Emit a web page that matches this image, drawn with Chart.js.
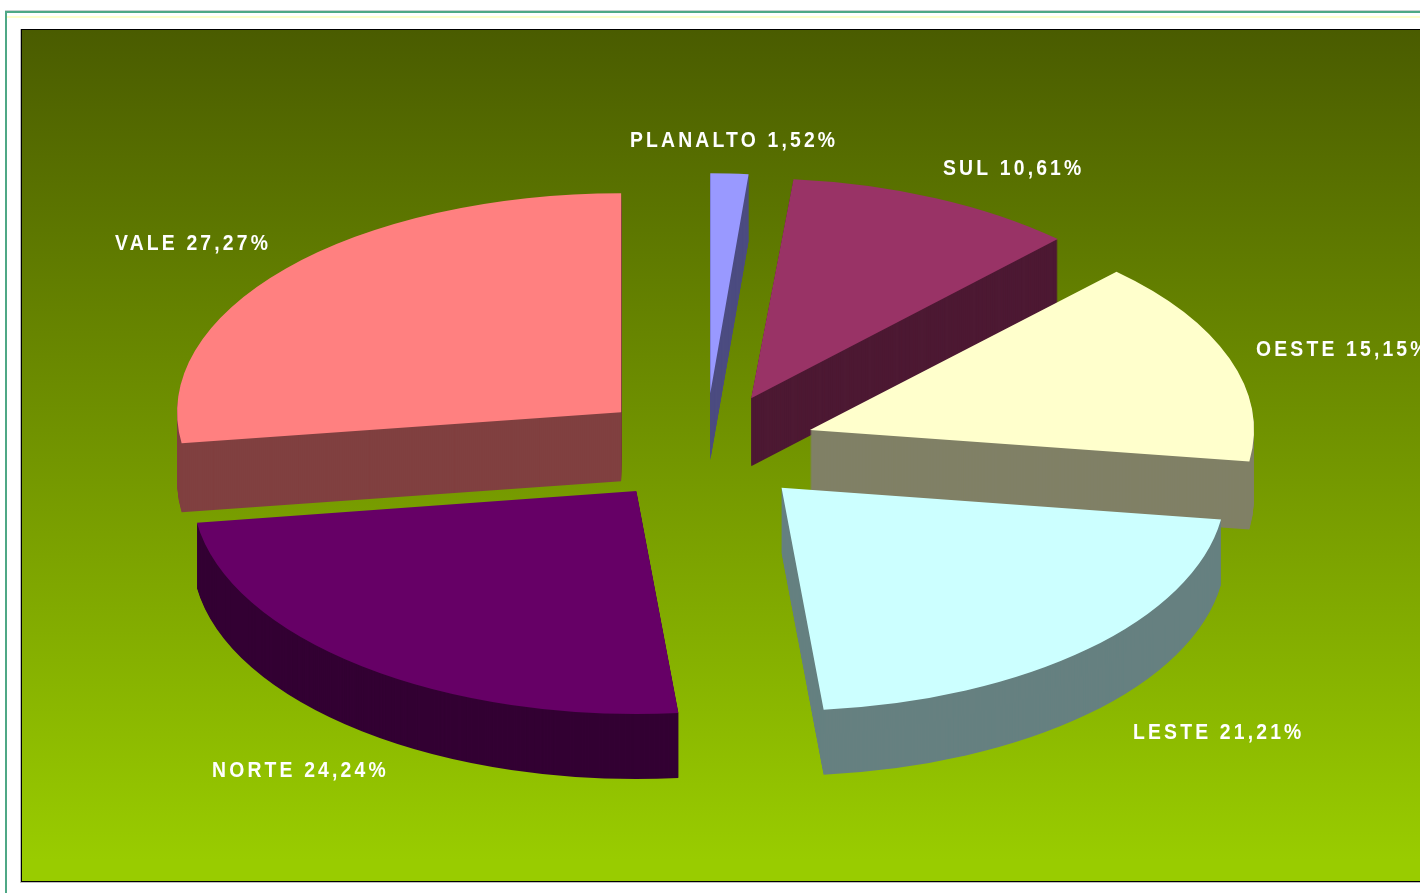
<!DOCTYPE html>
<html>
<head>
<meta charset="utf-8">
<title>Regiões</title>
<script src="https://cdn.jsdelivr.net/npm/chart.js@4"></script>
<style>
    html, body { margin: 0; padding: 0; background: #ffffff; overflow: hidden; }
    #wrap { position: relative; width: 1420px; height: 893px; }
    canvas { display: block; }
</style>
</head>
<body>
<div id="wrap"><canvas id="grafico" width="1420" height="893"></canvas></div>
<script>
// dados
const categorias = ["PLANALTO", "SUL", "OESTE", "LESTE", "NORTE", "VALE"];
const valores = [1.52, 10.61, 15.15, 21.21, 24.24, 27.27];

// cores
const coresTopo = ["#9999ff", "#993366", "#ffffcc", "#ccffff", "#660066", "#ff8080"];
const coresLado = ["#4d4d80", "#4d1933", "#808066", "#668080", "#330033", "#804040"];

// geometria da pizza 3D
const raio = 444;
const achatamento = 219 / 444;
const explosao = 0.25;
// perspectiva: cada fatia tem um ajuste proprio de altura, largura e espessura
const alturas = [220, 220, 219, 223, 223, 219];
const larguras = [0.905, 1, 1, 1, 1, 1];
const espessuras = [67, 68, 68, 65, 65, 69];
// ordem de desenho: de tras pra frente
const ordem = [5, 0, 1, 2, 4, 3];

// posicao dos rotulos (esquerda, base do texto)
const posRotulos = [[630, 147], [943, 175], [1256, 356], [1133, 739], [212, 777], [115, 250]];

function formatar(v) {
    return v.toFixed(2).replace(".", ",") + "%";
}

// moldura e fundo degrade
const fundo = {
    id: "fundo",
    beforeDraw(chart) {
        const ctx = chart.ctx;
        ctx.save();
        ctx.fillStyle = "#ffffff";
        ctx.fillRect(0, 0, 1420, 893);

        ctx.fillStyle = "#c8d0d0";
        ctx.fillRect(5, 10, 1415, 1);
        ctx.fillStyle = "#ffffcc";
        ctx.fillRect(7, 16, 1413, 2);
        ctx.fillStyle = "#4fa886";
        ctx.fillRect(5, 11, 1415, 2);
        ctx.fillRect(5, 11, 2, 882);

        ctx.fillStyle = "#c0c0c0";
        ctx.fillRect(20, 29, 1, 854);
        ctx.fillRect(20, 882, 1400, 1);
        ctx.fillStyle = "#000000";
        ctx.fillRect(21, 29, 1399, 853);

        const grad = ctx.createLinearGradient(0, 30, 0, 860);
        grad.addColorStop(0, "#4a5c00");
        grad.addColorStop(1, "#99cc00");
        ctx.fillStyle = grad;
        ctx.fillRect(22, 30, 1398, 851);
        ctx.restore();
    }
};

// desenha cada fatia achatada, com o lado extrudado, usando os arcos do Chart.js
function desenharFatia(chart, arco, i, cor, desl) {
    const ctx = chart.ctx;
    const meio = (arco.startAngle + arco.endAngle) / 2;
    const dx = Math.cos(meio) * explosao * arco.outerRadius;
    const dy = Math.sin(meio) * explosao * arco.outerRadius * achatamento;
    const opcoes = arco.options;
    arco.options = Object.assign({}, opcoes, { backgroundColor: cor, borderColor: cor });
    ctx.save();
    ctx.translate(arco.x + dx, arco.y + dy + desl);
    ctx.scale(larguras[i], alturas[i] / raio);
    ctx.translate(-arco.x, -arco.y);
    arco.draw(ctx);
    ctx.restore();
    arco.options = opcoes;
}

const pizza3d = {
    id: "pizza3d",
    beforeDatasetsDraw(chart) {
        const arcos = chart.getDatasetMeta(0).data;
        ordem.forEach(function (i) {
            for (let d = espessuras[i]; d > 0; d--) {
                desenharFatia(chart, arcos[i], i, coresLado[i], d);
            }
            desenharFatia(chart, arcos[i], i, coresTopo[i], 0);
        });
        return false;
    },
    afterDraw(chart) {
        const ctx = chart.ctx;
        ctx.save();
        ctx.fillStyle = "#ffffff";
        ctx.font = "bold 22px 'Liberation Sans'";
        ctx.letterSpacing = "3.6px";
        ctx.textBaseline = "alphabetic";
        categorias.forEach(function (nome, i) {
            ctx.save();
            ctx.translate(posRotulos[i][0], posRotulos[i][1]);
            ctx.scale(0.88, 1);
            ctx.fillText(nome + " " + formatar(valores[i]), 0, 0);
            ctx.restore();
        });
        ctx.restore();
    }
};

new Chart(document.getElementById("grafico"), {
    type: "pie",
    data: {
        labels: categorias,
        datasets: [{
            data: valores,
            backgroundColor: coresTopo,
            borderWidth: 0
        }]
    },
    options: {
        responsive: false,
        animation: false,
        radius: raio,
        layout: { padding: { left: 0, right: 10, top: 3, bottom: 0 } },
        plugins: {
            legend: { display: false },
            title: { display: false },
            tooltip: { enabled: false }
        }
    },
    plugins: [fundo, pizza3d]
});
</script>
</body>
</html>
